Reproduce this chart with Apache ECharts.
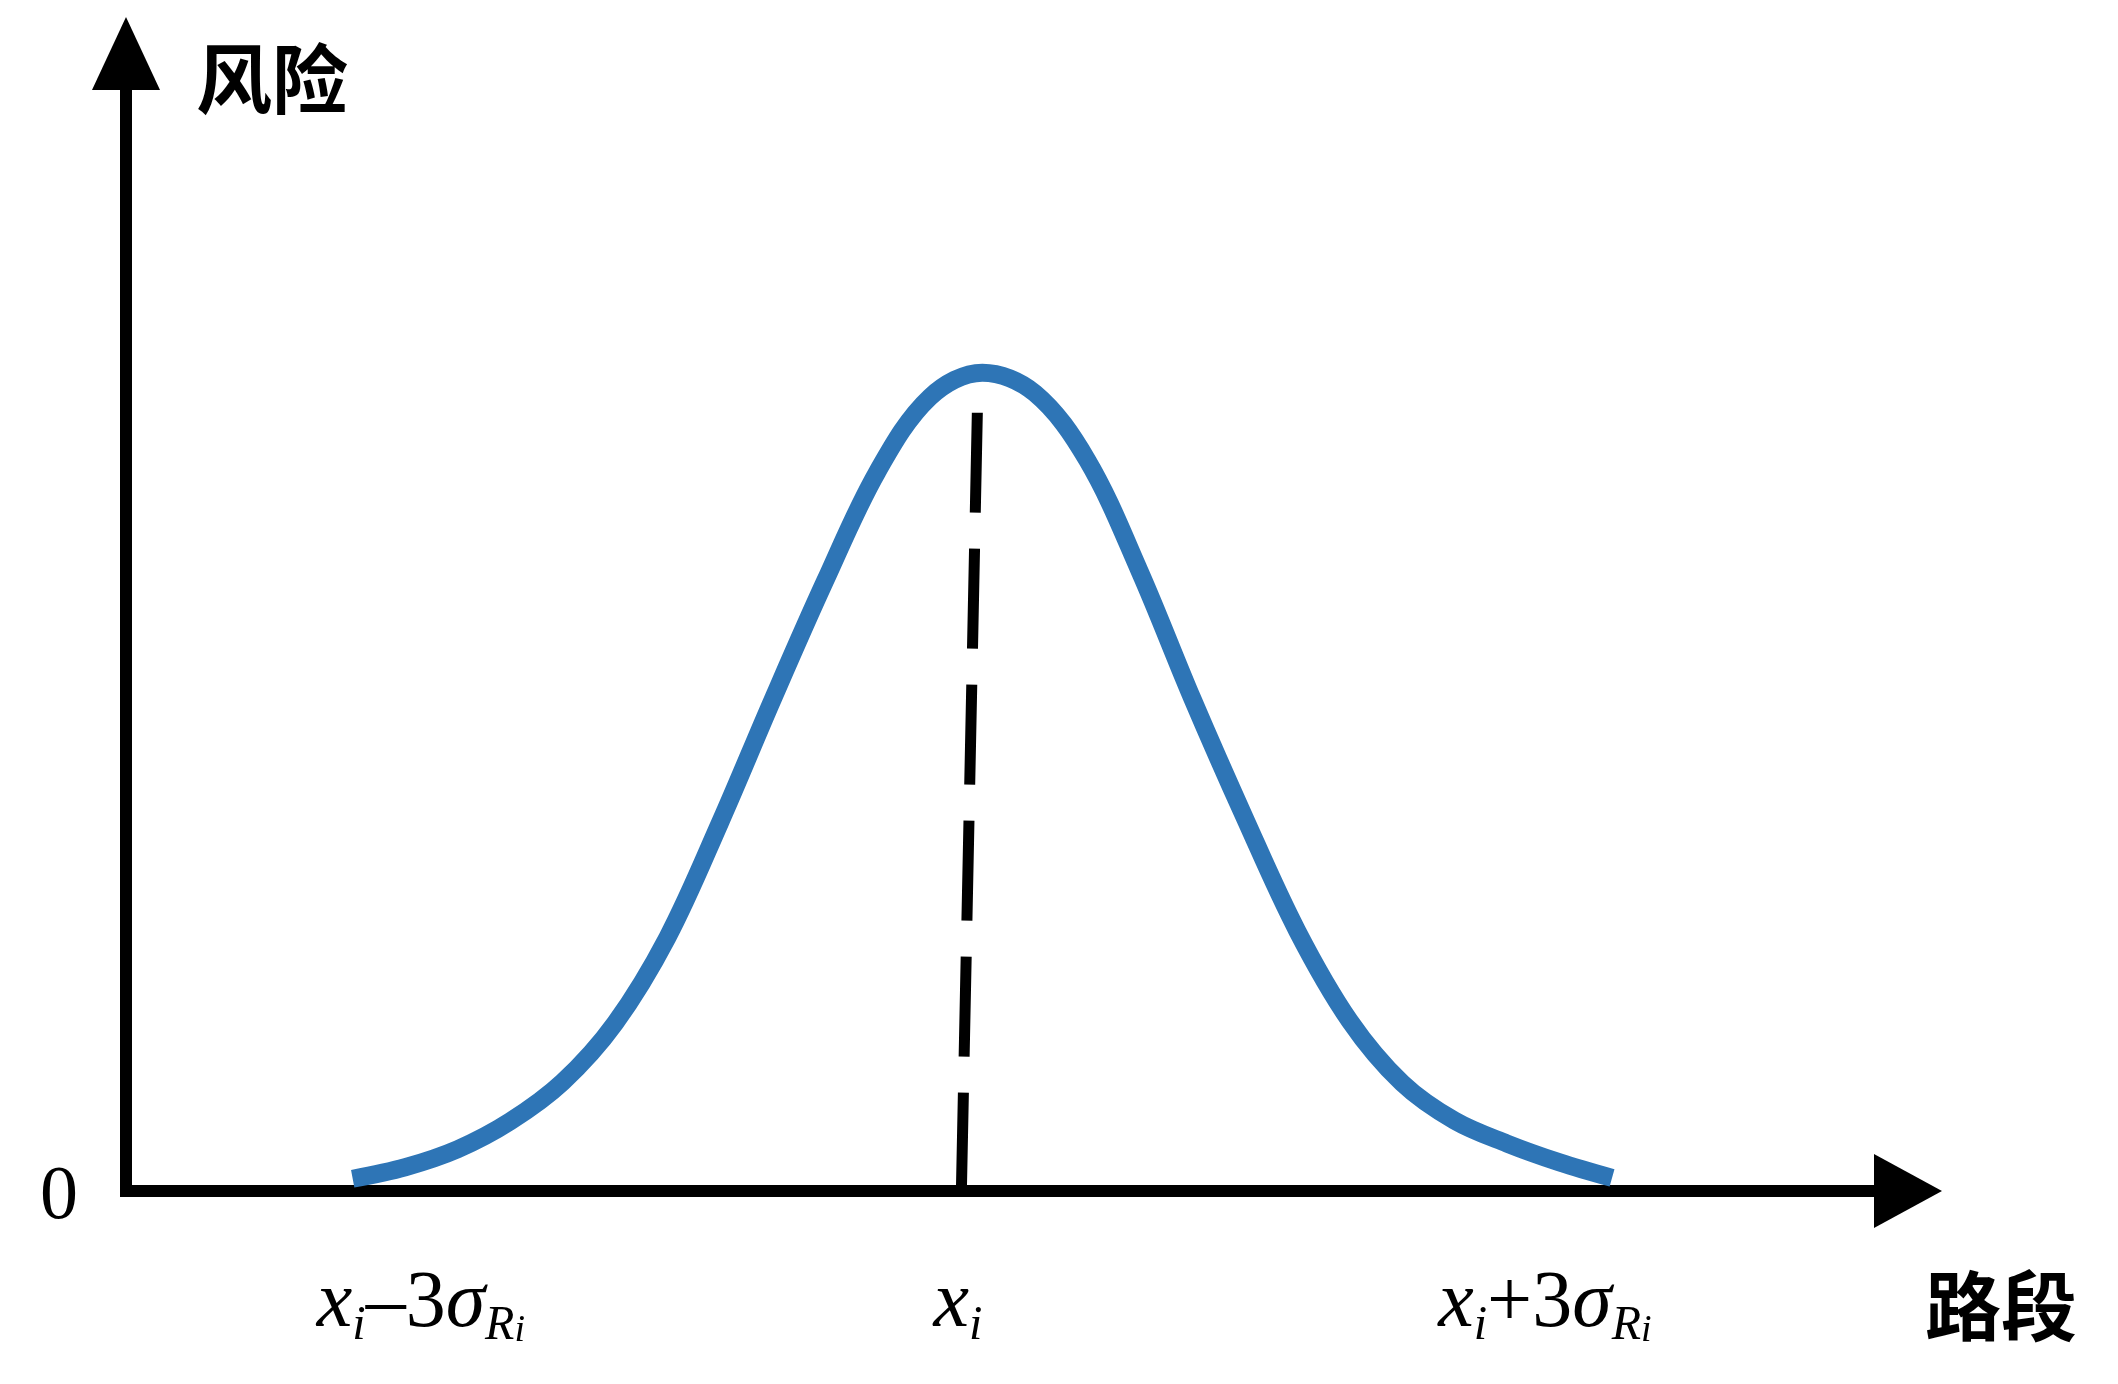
<!DOCTYPE html>
<html>
<head>
<meta charset="utf-8">
<script src="https://cdn.jsdelivr.net/npm/echarts@6/dist/echarts.min.js"></script>
<style>
html,body{margin:0;padding:0;background:#fff;}
#c{width:2118px;height:1384px;}
</style>
</head>
<body>
<div id="c"></div>
<script>
// Risk curve along the road section (x in units of sigma around x_i, y normalised to the peak)
const curveX = [-3.00, -2.75, -2.50, -2.25, -2.00, -1.75, -1.50, -1.25, -1.00, -0.75, -0.50, -0.25, 0.00,
                0.25, 0.50, 0.75, 1.00, 1.25, 1.50, 1.75, 2.00, 2.25, 2.50, 2.75, 3.00];
const curveY = [0.015, 0.029, 0.051, 0.085, 0.133, 0.205, 0.310, 0.450, 0.600, 0.745, 0.879, 0.970, 1.000,
                0.975, 0.893, 0.757, 0.602, 0.456, 0.318, 0.208, 0.132, 0.086, 0.058, 0.035, 0.016];
// dashed reference line at x_i (top point first)
const refX = [-0.024, -0.100];
const refY = [0.951, 0.000];
// x-axis tick labels
const xTickValues = [-2.675, -0.116, 2.68];
const xTickLabels = [
  '{v|x}{s|i}{n|\u20133}{v|\u03c3}{s|R}{ss|i}',
  '{v|x}{s|i}',
  '{v|x}{s|i}{n|+3}{v|\u03c3}{s|R}{ss|i}'
];
const yTickLabel = '0';
const xName = '路段';
const yName = '风险';

const curveData = curveX.map((x, i) => [x, curveY[i]]);
const refData = refX.map((x, i) => [x, refY[i]]);

const serif = '"Times New Roman", "Liberation Serif", serif';
const cjk = '"Noto Sans CJK SC", sans-serif';

function xLabel(v) {
  for (let i = 0; i < xTickValues.length; i++) {
    if (Math.abs(xTickValues[i] - v) < 1e-6) return xTickLabels[i];
  }
  return '';
}

const chart = echarts.init(document.getElementById('c'), null, {renderer: 'canvas'});
chart.setOption({
  animation: false,
  backgroundColor: '#ffffff',
  grid: {left: 126, right: 210, top: 53.5, bottom: 193, containLabel: false},
  graphic: [{
    type: 'text',
    left: 1925,
    top: 1268,
    style: {text: xName, font: 'bold 76px "Noto Sans CJK SC", sans-serif', fill: '#000'}
  }],
  xAxis: {
    type: 'value',
    min: -4.08,
    max: 4.41,
    axisLine: {
      show: true,
      onZero: false,
      symbol: ['none', 'triangle'],
      symbolSize: [74, 68],
      lineStyle: {color: '#000', width: 12, cap: 'square'}
    },
    axisTick: {show: false},
    splitLine: {show: false},
    axisLabel: {
      customValues: xTickValues,
      margin: 69,
      formatter: function (v) { return xLabel(v); },
      rich: {
        v: {fontFamily: serif, fontStyle: 'italic', fontSize: 80, lineHeight: 90, color: '#000'},
        n: {fontFamily: serif, fontSize: 80, lineHeight: 90, color: '#000'},
        s: {fontFamily: serif, fontStyle: 'italic', fontSize: 48, lineHeight: 50, verticalAlign: 'bottom', color: '#000'},
        ss: {fontFamily: serif, fontStyle: 'italic', fontSize: 38, lineHeight: 30, verticalAlign: 'bottom', color: '#000'}
      }
    }
  },
  yAxis: {
    type: 'value',
    min: 0,
    max: 1.39,
    interval: 10,
    name: yName,
    nameLocation: 'end',
    nameGap: -26,
    nameMoveOverlap: false,
    nameTextStyle: {
      fontFamily: cjk, fontSize: 76, fontWeight: 'bold', color: '#000',
      align: 'left', verticalAlign: 'middle', padding: [0, 0, 0, 70]
    },
    axisLine: {
      show: true,
      onZero: false,
      symbol: ['none', 'triangle'],
      symbolSize: [68, 73],
      lineStyle: {color: '#000', width: 12, cap: 'square'}
    },
    axisTick: {show: false},
    splitLine: {show: false},
    axisLabel: {
      margin: 48,
      formatter: function (v) { return v === 0 ? '{z|' + yTickLabel + '}' : ''; },
      rich: {
        z: {fontFamily: serif, fontSize: 76, color: '#000', padding: [14, 0, 0, 0]}
      }
    }
  },
  series: [
    {
      type: 'line',
      data: curveData,
      smooth: 0.35,
      showSymbol: false,
      symbol: 'none',
      lineStyle: {color: '#2E75B6', width: 18, cap: 'butt'},
      z: 3
    },
    {
      type: 'line',
      data: refData,
      showSymbol: false,
      symbol: 'none',
      lineStyle: {color: '#000', width: 11, type: [100, 36], cap: 'butt'},
      z: 2
    }
  ]
});
</script>
</body>
</html>
